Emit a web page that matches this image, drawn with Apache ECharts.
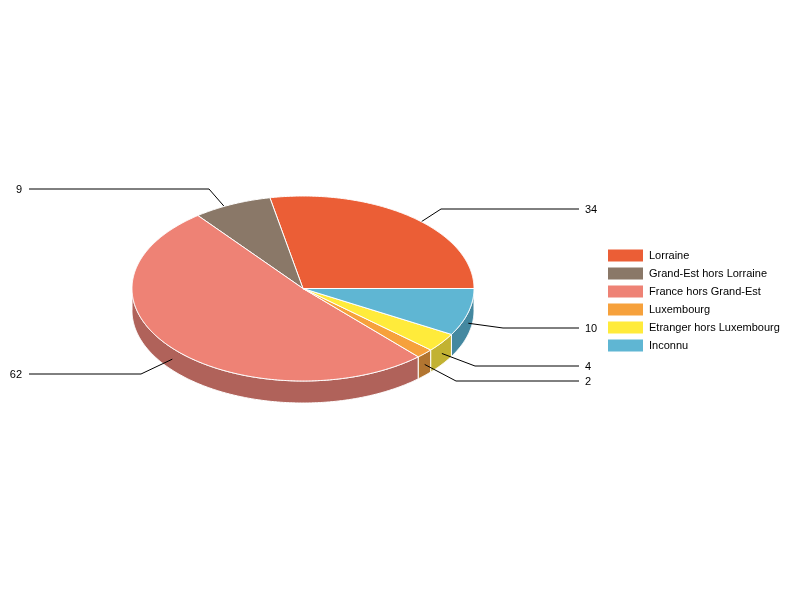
<!DOCTYPE html>
<html><head><meta charset="utf-8">
<style>html,body{margin:0;padding:0;background:#fff}#c{width:800px;height:600px}</style>
<script src="https://cdn.jsdelivr.net/npm/echarts@6/dist/echarts.min.js"></script>
</head><body><div id="c"></div>
<script>
var categories = ['Lorraine','Grand-Est hors Lorraine','France hors Grand-Est','Luxembourg','Etranger hors Luxembourg','Inconnu'];
var values = [34, 9, 62, 2, 4, 10];
var colors = ['#EB5E36','#8A7868','#EE8275','#F6A13C','#FFEB3B','#5FB6D3'];
var sideColors = ['#B1472A','#67594E','#B0625A','#B27530','#C2B232','#4488A0'];

var CX = 303, CY = 288.5, RX = 171, RY = 92.5, DEPTH = 22;
var ELBOW_SCALE_X = 213, ELBOW_SCALE_Y = 115;
var elbowNudge = [[2.5,-2],[-6,-6],[1,0],[1,1],[-1,-1],[-6,-1]];
var LABEL_LEFT = 29, LABEL_RIGHT = 579, GAP_LEFT = 7, GAP_RIGHT = 6;

var total = values.reduce(function(a,b){return a+b;},0);
var D2R = Math.PI/180;
var spans = [], acc = 0;
values.forEach(function(v){ var s = acc/total*360; acc += v; spans.push([s, acc/total*360]); });

function pt(a, dy){ return [CX + RX*Math.cos(a*D2R), CY - RY*Math.sin(a*D2R) + (dy||0)]; }
function arcPts(a0, a1, dy){
  var out = [], n = Math.max(2, Math.ceil(Math.abs(a1-a0)*2));
  for (var i=0;i<=n;i++) out.push(pt(a0+(a1-a0)*i/n, dy));
  return out;
}
function makeRender(idx){
  return function(params, api){
    var a0 = spans[idx][0], a1 = spans[idx][1], mid = (a0+a1)/2, children = [];
    // visible wall: the part of the slice lying on the front half (180..360)
    var w0 = Math.max(a0,180), w1 = Math.min(a1,360);
    if (w1 > w0) {
      children.push({type:'polygon', z2:1,
        shape:{points: arcPts(w0,w1,0).concat(arcPts(w1,w0,DEPTH))},
        style:{fill:sideColors[idx], stroke:'#fff', lineWidth:1}});
    }
    // leader line, sits under the top face
    var s = [CX+RX*Math.cos(mid*D2R), CY+DEPTH/2-RY*Math.sin(mid*D2R)];
    var e = [Math.round(CX+ELBOW_SCALE_X*Math.cos(mid*D2R)+elbowNudge[idx][0]),
             Math.round(CY+DEPTH/2-ELBOW_SCALE_Y*Math.sin(mid*D2R)+elbowNudge[idx][1])];
    var right = Math.cos(mid*D2R) > 0, endX = right ? LABEL_RIGHT : LABEL_LEFT;
    children.push({type:'polyline', z2:2, shape:{points:[s,e,[endX,e[1]]]},
      style:{fill:null, stroke:'#000', lineWidth:1}});
    children.push({type:'text', z2:5, style:{
      text:String(api.value(0)), x:endX+(right?GAP_RIGHT:-GAP_LEFT), y:e[1]+1,
      textAlign:right?'left':'right', textVerticalAlign:'middle',
      fontFamily:'Liberation Sans', fontSize:11, fill:'#000'}});
    // top face
    children.push({type:'polygon', z2:3,
      shape:{points:[[CX,CY]].concat(arcPts(a0,a1,0))},
      style:{fill:colors[idx], stroke:'#fff', lineWidth:1}});
    return {type:'group', children:children};
  };
}
var series = categories.map(function(name,i){
  return {type:'custom', name:name, coordinateSystem:'none', silent:true, animation:false,
    itemStyle:{color:colors[i]}, data:[[values[i]]], renderItem:makeRender(i)};
});
var chart = echarts.init(document.getElementById('c'), null, {renderer:'canvas'});
chart.setOption({
  animation:false, backgroundColor:'#fff',
  legend:{orient:'vertical', left:608, top:249, itemWidth:35, itemHeight:12, itemGap:5,
    icon:'rect', selectedMode:false, padding:0,
    textStyle:{fontFamily:'Liberation Sans', fontSize:11, color:'#000', padding:[1,0,0,1], lineHeight:12},
    data:categories},
  series:series
});
</script></body></html>
